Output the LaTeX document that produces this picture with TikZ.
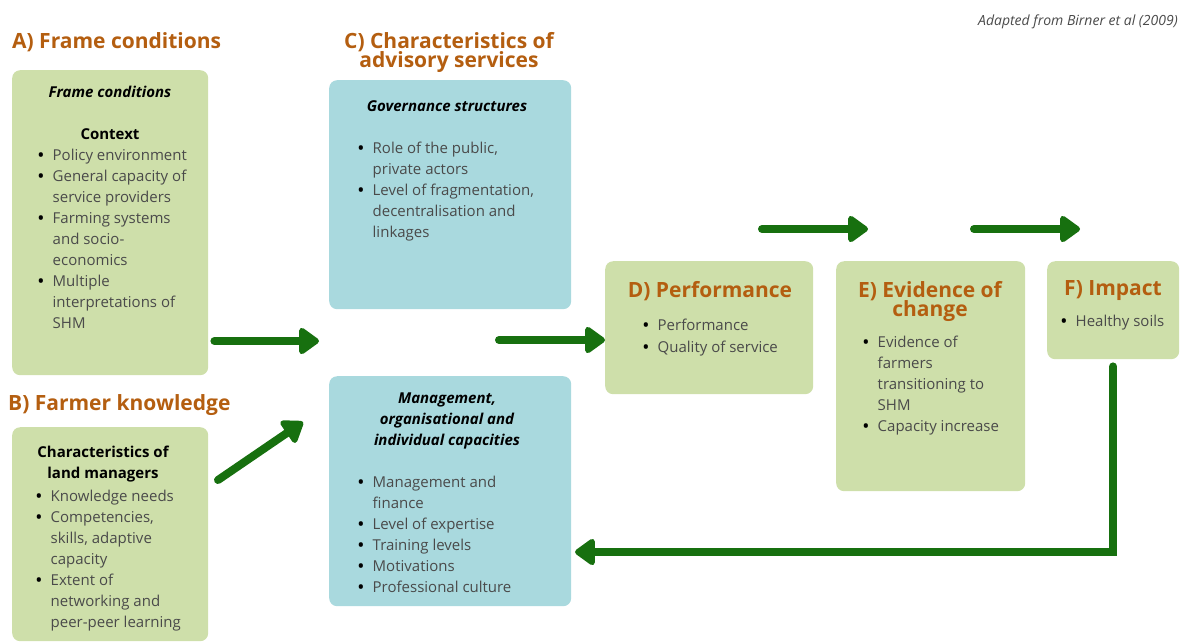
\documentclass[tikz,border=0pt]{standalone}
\usepackage{fontspec}
\setmainfont{Open Sans}
\usetikzlibrary{arrows.meta,positioning}
\definecolor{boxgreen}{HTML}{CEDFAA}
\definecolor{boxblue}{HTML}{A9D9DE}
\definecolor{arrowgreen}{HTML}{17700F}
\definecolor{titleorange}{HTML}{B45E10}
\definecolor{bodygray}{HTML}{4A4A4A}
\newcommand{\bl}{\makebox[14.5pt][l]{\textcolor{black}{\bfseries\textbullet}}}
\newcommand{\ind}{\hspace*{14.5pt}}
\tikzstyle{box}=[rectangle,rounded corners=8pt,anchor=north west,inner sep=0pt]
\tikzstyle{greenbox}=[box,fill=boxgreen]
\tikzstyle{bluebox}=[box,fill=boxblue]
\tikzstyle{title}=[font=\fontsize{21}{19.5}\selectfont\bfseries,text=titleorange,inner sep=0pt,anchor=base]
\tikzstyle{head}=[font=\fontsize{15}{21}\selectfont\bfseries,inner sep=0pt,anchor=base]
\tikzstyle{ihead}=[font=\fontsize{15}{21}\selectfont\bfseries\itshape,inner sep=0pt,anchor=base]
\tikzstyle{items}=[font=\fontsize{15}{21}\selectfont,text=bodygray,inner sep=0pt,anchor=base west]
\tikzstyle{arrow}=[draw=arrowgreen,line width=8pt,line cap=round,-{Triangle[length=22pt,width=30pt,round]}]

\begin{document}
\begin{tikzpicture}[x=1pt,y=-1pt]
    \useasboundingbox (0,0) rectangle (1180,641);
    % source note
    \node[font=\fontsize{14}{16}\selectfont\itshape,text=bodygray,inner sep=0pt,anchor=base east] (source) at (1178,25) {Adapted from Birner et al (2009)};
    % section titles outside the boxes
    \node[title,anchor=base west] (titleA) at (12,48) {A) Frame conditions};
    \node[title,anchor=base west] (titleB) at (8,410) {B) Farmer knowledge};
    \node[title] (titleC) at (449,48) {\parbox[t]{260pt}{\centering C) Characteristics of\\advisory services}};
    % the boxes
    \node[greenbox,minimum width=196pt,minimum height=305pt] (frame) at (12,70) {};
    \node[greenbox,minimum width=196pt,minimum height=214pt] (knowledge) at (12,427) {};
    \node[bluebox,minimum width=242pt,minimum height=229pt] (governance) at (329,80) {};
    \node[bluebox,minimum width=242pt,minimum height=230pt] (capacities) at (329,376) {};
    \node[greenbox,minimum width=208pt,minimum height=133pt] (perf) at (605,261) {};
    \node[greenbox,minimum width=189pt,minimum height=230pt] (evidence) at (836,261) {};
    \node[greenbox,minimum width=132pt,minimum height=98pt] (impact) at (1047,261) {};
    % A) frame conditions
    \node[ihead] (framehead) at (110,97) {Frame conditions};
    \node[head] (context) at (110,139) {Context};
    \node[items] (framelist) at (38,160) {\parbox[t]{200pt}{\bl Policy environment\\ \bl General capacity of\\ \ind service providers\\ \bl Farming systems\\ \ind and socio-\\ \ind economics\\ \bl Multiple\\ \ind interpretations of\\ \ind SHM}};
    % B) farmer knowledge
    \node[head] (landhead) at (103,457) {\parbox[t]{190pt}{\centering Characteristics of\\land managers}};
    \node[items] (landlist) at (36,501) {\parbox[t]{200pt}{\bl Knowledge needs\\ \bl Competencies,\\ \ind skills, adaptive\\ \ind capacity\\ \bl Extent of\\ \ind networking and\\ \ind peer-peer learning}};
    % C) advisory services
    \node[ihead] (govhead) at (447,111) {Governance structures};
    \node[items] (govlist) at (358,153) {\parbox[t]{220pt}{\bl Role of the public,\\ \ind private actors\\ \bl Level of fragmentation,\\ \ind decentralisation and\\ \ind linkages}};
    \node[ihead] (caphead) at (447,403) {\parbox[t]{230pt}{\centering Management,\\organisational and\\individual capacities}};
    \node[items] (caplist) at (358,487) {\parbox[t]{220pt}{\bl Management and\\ \ind finance\\ \bl Level of expertise\\ \bl Training levels\\ \bl Motivations\\ \bl Professional culture}};
    % D) E) F)
    \node[title] (titleD) at (710,297) {D) Performance};
    \node[items] (perflist) at (643,330) {\parbox[t]{200pt}{\bl Performance\\[1pt] \bl Quality of service}};
    \node[title] (titleE) at (930,297) {\parbox[t]{180pt}{\centering E) Evidence of\\change}};
    \node[items] (evlist) at (863,347) {\parbox[t]{200pt}{\bl Evidence of\\ \ind farmers\\ \ind transitioning to\\ \ind SHM\\ \bl Capacity increase}};
    \node[title] (titleF) at (1113,295) {F) Impact};
    \node[items] (implist) at (1061,326) {\parbox[t]{150pt}{\bl Healthy soils}};
    % free ends of the arrows
    \coordinate (cgap) at (319,341);
    \coordinate (cout) at (499,340);
    \coordinate (bout) at (218,480);
    \coordinate (capin) at (303,422);
    \coordinate (de1) at (762,229);
    \coordinate (de2) at (868,229);
    \coordinate (ef1) at (974,229);
    \coordinate (ef2) at (1080,229);
    \coordinate (fb) at (575,552);
    % arrows
    \draw[arrow,shorten <=6pt] (frame.east |- cgap) -- (cgap);
    \draw[arrow] (bout) -- (capin);
    \draw[arrow] (cout) -- (perf.west |- cout);
    \draw[arrow] (de1) -- (de2);
    \draw[arrow] (ef1) -- (ef2);
    \draw[arrow,shorten <=7pt] (impact.south) |- (fb);
\end{tikzpicture}
\end{document}
